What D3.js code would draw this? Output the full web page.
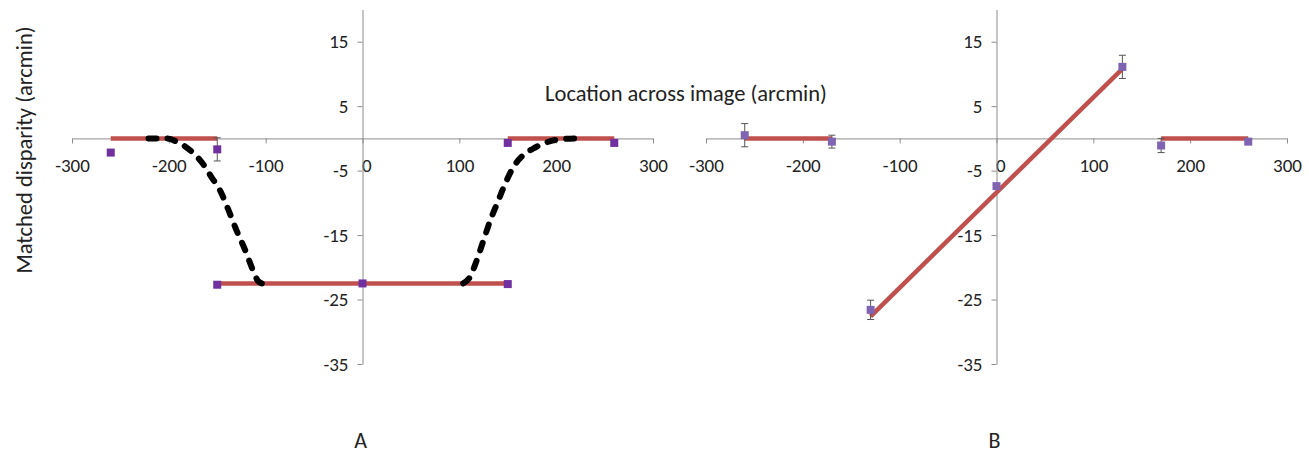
<!DOCTYPE html>
<html>
<head>
<meta charset="utf-8">
<script src="https://cdn.jsdelivr.net/npm/d3@7"></script>
<style>
  body { margin: 0; background: #fff; }
  text { font-family: Carlito, Calibri, Lato, sans-serif; fill: #222; }
  .axis path, .axis line { stroke: #8c8c8c; stroke-width: 1; }
  .axis text { font-size: 19px; fill: #222; }
  .model { fill: none; stroke: #c0504d; stroke-width: 4.5; }
  .curve { fill: none; stroke: #000; stroke-width: 6; stroke-dasharray: 8,11; stroke-linecap: round; }
  .err { stroke: #555; stroke-width: 1; }
</style>
</head>
<body>
<svg id="chart" width="1309" height="453"></svg>
<script>

// shared axis ticks
let xTicks = [-300, -200, -100, 0, 100, 200, 300];
let yTicks = [-35, -25, -15, -5, 5, 15];

// panel A : measured points
let pointsAX   = [-260, -150, -150, 0, 150, 150, 260];
let pointsAY   = [-2.2, -1.7, -22.7, -22.5, -22.6, -0.7, -0.7];
let pointsAErr = [0.3, 1.8, 0.3, 0.3, 0.3, 0.3, 0.3];

// panel A : model segments (start x, end x, start y, end y)
let modelAX0 = [-260, -150, 150];
let modelAX1 = [-150, 150, 260];
let modelAY0 = [0, -22.5, 0];
let modelAY1 = [0, -22.5, 0];

// panel A : dashed transition curves
let curveLeftX  = [-221, -202, -192, -176, -165, -156, -147, -139, -130, -121, -113, -108, -104];
let curveLeftY  = [0, 0, -0.5, -2.1, -3.9, -6.0, -8.1, -10.9, -14.3, -17.4, -20.5, -22.1, -22.5];
let curveRightX = [104, 111, 118, 125, 132, 139, 146, 156, 166, 176, 187, 197, 207, 221];
let curveRightY = [-22.5, -21.5, -18.9, -15.8, -12.7, -10.1, -7.5, -4.4, -2.6, -1.6, -0.8, -0.3, -0.1, 0];

// panel B : measured points
let pointsBX   = [-260, -170, -130, 0, 130, 170, 260];
let pointsBY   = [0.5, -0.5, -26.6, -7.4, 11.1, -1.1, -0.5];
let pointsBErr = [1.8, 1.0, 1.5, 0.3, 1.8, 1.1, 0.3];

// panel B : model segments
let modelBX0 = [-260, -130, 170];
let modelBX1 = [-170, 130, 260];
let modelBY0 = [0, -27.6, 0];
let modelBY1 = [0, 10.8, 0];

let svg = d3.select('#chart');

/** Draws one panel : axes crossing at zero, red model lines, dashed curves, square markers. */
function Panel( svg, args ) {
    let params = {
        left : 72,
        right : 653,
        top : 9.5,
        bottom : 364,
        marker : '#7030a0',
        errColor : '#444',
        label : 'A'
    };
    params = Object.assign( params, args );

    let x = d3.scaleLinear().domain( [-300, 300] ).range( [params.left, params.right] );
    let y = d3.scaleLinear().domain( [-35, 20] ).range( [params.bottom, params.top] );

    let group = svg.append('g').attr('class', 'panel');

    // plain hyphen minus like the original, not the unicode minus d3 uses
    let fmt = function(d) { return String(d); };

    // x axis sits on y=0, y axis on x=0
    group.append('g')
        .attr('class', 'axis')
        .attr('transform', 'translate(0,' + y(0) + ')')
        .call( d3.axisBottom(x).tickValues(xTicks).tickFormat(fmt)
            .tickSize(5).tickSizeOuter(0).tickPadding(15) );
    group.append('g')
        .attr('class', 'axis')
        .attr('transform', 'translate(' + x(0) + ',0)')
        .call( d3.axisLeft(y).tickValues(yTicks).tickFormat(fmt)
            .tickSize(5).tickSizeOuter(0).tickPadding(9) );
    group.selectAll('.axis').attr('font-family', null).attr('font-size', null);
    // the "0" label is nudged right like the original
    group.selectAll('.axis text').filter( function(d) { return d === 0; } ).attr('dx', '0.2em');

    // model segments
    let segs = d3.range( params.x0.length );
    group.append('g').selectAll('line')
        .data( segs )
        .enter().append('line')
        .attr('class', 'model')
        .attr('x1', function(i) { return x(params.x0[i]); })
        .attr('x2', function(i) { return x(params.x1[i]); })
        .attr('y1', function(i) { return y(params.y0[i]); })
        .attr('y2', function(i) { return y(params.y1[i]); });

    // dashed transitions
    let line = d3.line()
        .x( function(d) { return x(d[0]); } )
        .y( function(d) { return y(d[1]); } )
        .curve( d3.curveMonotoneX );
    (params.curves || []).forEach( function(c) {
        group.append('path')
            .attr('class', 'curve')
            .attr('d', line( d3.zip(c[0], c[1]) ));
    } );

    // error bars then markers
    let pts = d3.range( params.px.length );
    let bars = group.append('g').selectAll('g')
        .data( pts )
        .enter().append('g')
        .attr('class', 'err')
        .attr('stroke', params.errColor);
    bars.append('line')
        .attr('x1', function(i) { return x(params.px[i]); })
        .attr('x2', function(i) { return x(params.px[i]); })
        .attr('y1', function(i) { return y(params.py[i] + params.pe[i]); })
        .attr('y2', function(i) { return y(params.py[i] - params.pe[i]); });
    [1, -1].forEach( function(s) {
        bars.append('line')
            .attr('x1', function(i) { return x(params.px[i]) - 3.5; })
            .attr('x2', function(i) { return x(params.px[i]) + 3.5; })
            .attr('y1', function(i) { return y(params.py[i] + s*params.pe[i]); })
            .attr('y2', function(i) { return y(params.py[i] + s*params.pe[i]); });
    } );

    group.append('g').selectAll('rect')
        .data( pts )
        .enter().append('rect')
        .attr('x', function(i) { return x(params.px[i]) - 4; })
        .attr('y', function(i) { return y(params.py[i]) - 4; })
        .attr('width', 8)
        .attr('height', 8)
        .attr('fill', params.marker);

    // panel letter under the chart
    group.append('text')
        .attr('x', x(0) - 2)
        .attr('y', 448)
        .attr('text-anchor', 'middle')
        .attr('font-size', '22px')
        .text( params.label );

    return group;
}

Panel( svg, {
    left : 72, right : 653,
    x0 : modelAX0, x1 : modelAX1, y0 : modelAY0, y1 : modelAY1,
    px : pointsAX, py : pointsAY, pe : pointsAErr,
    curves : [[curveLeftX, curveLeftY], [curveRightX, curveRightY]],
    marker : '#7030a0', errColor : '#333', label : 'A'
} );

Panel( svg, {
    left : 706, right : 1287,
    x0 : modelBX0, x1 : modelBX1, y0 : modelBY0, y1 : modelBY1,
    px : pointsBX, py : pointsBY, pe : pointsBErr,
    marker : '#7f64b2', errColor : '#8c8c8c', label : 'B'
} );

// shared axis titles
svg.append('text')
    .attr('x', 686)
    .attr('y', 101)
    .attr('text-anchor', 'middle')
    .attr('font-size', '22.5px')
    .text('Location across image (arcmin)');

svg.append('text')
    .attr('transform', 'translate(32,150) rotate(-90)')
    .attr('text-anchor', 'middle')
    .attr('font-size', '22.5px')
    .text('Matched disparity (arcmin)');

</script>
</body>
</html>
